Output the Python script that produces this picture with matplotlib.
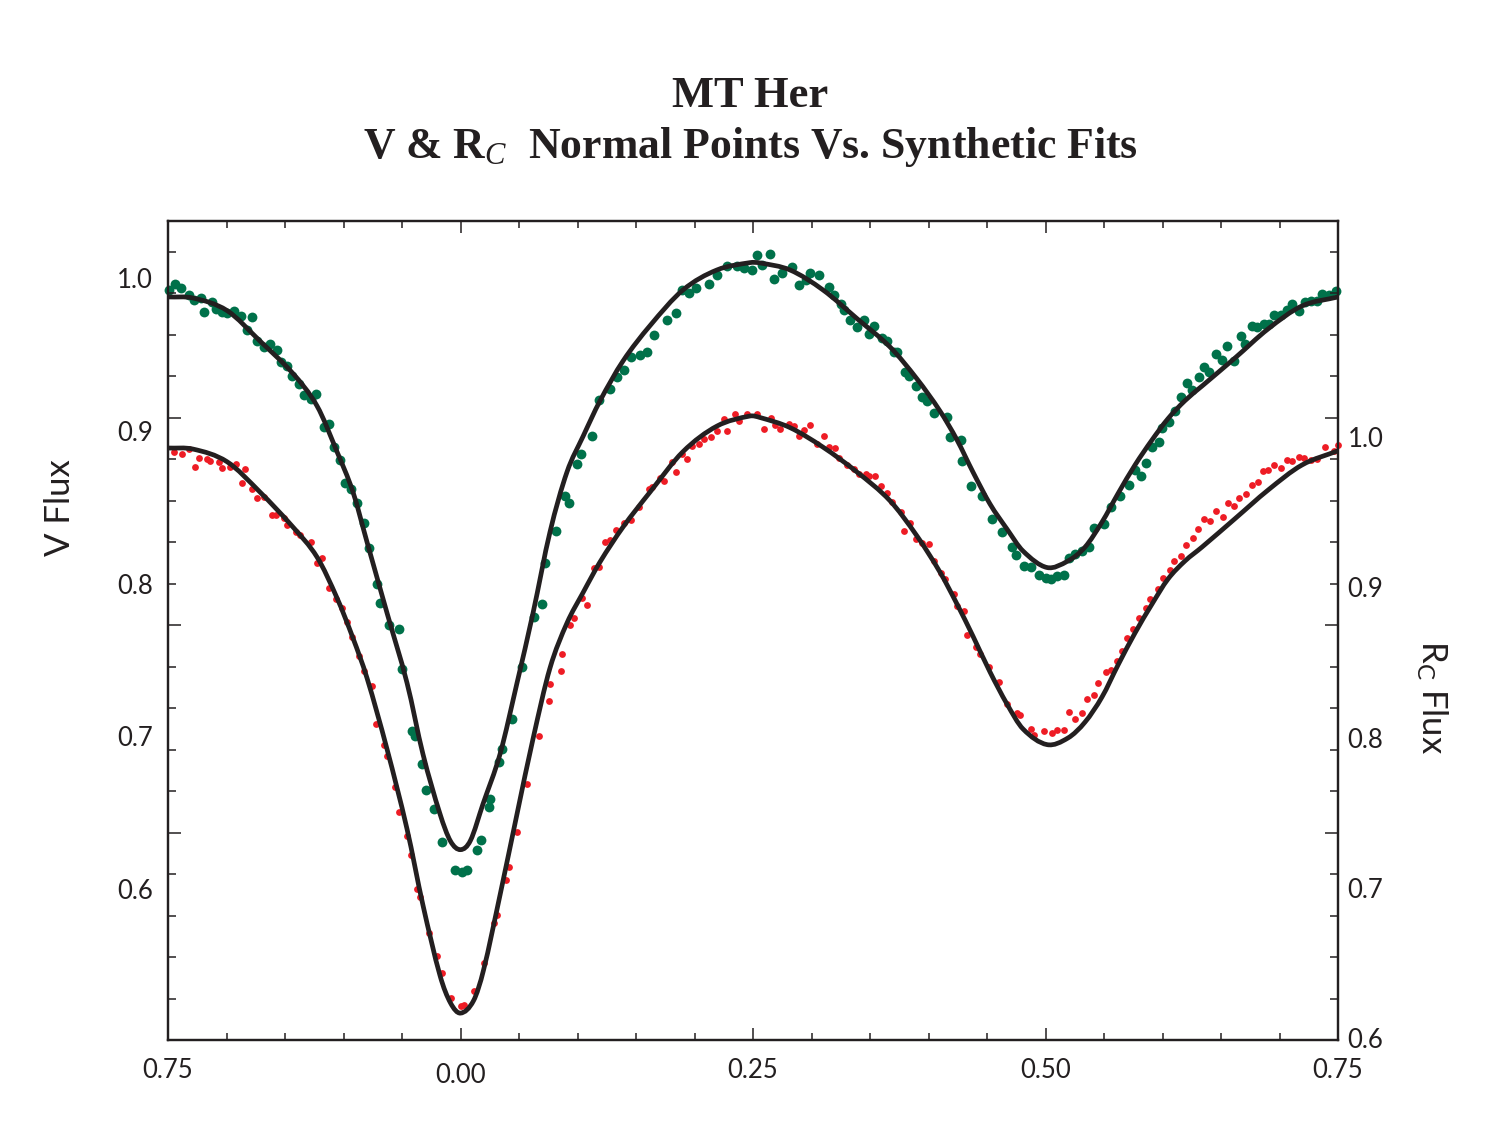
import matplotlib
matplotlib.use("Agg")
import matplotlib.pyplot as plt
from matplotlib.path import Path
from matplotlib.patches import PathPatch

# ---------------- data ----------------
# synthetic fit, V band (phase, flux)
fit_v_phase = [-0.25, -0.2286, -0.1996, -0.1714, -0.1432, -0.1226, -0.1056, -0.0919, -0.0799,
               -0.0628, -0.0457, -0.0321, -0.0175, -0.0085, 0.0, 0.0085, 0.0192, 0.0338, 0.0483,
               0.0620, 0.0765, 0.0910, 0.1047, 0.1192, 0.1389, 0.1620, 0.1902, 0.2192, 0.2474,
               0.2560, 0.2816, 0.3098, 0.3389, 0.3671, 0.3902, 0.4098, 0.4244, 0.4380, 0.4526,
               0.4671, 0.4808, 0.5013, 0.5192, 0.5338, 0.5483, 0.5620, 0.5765, 0.5910, 0.6047,
               0.6192, 0.6338, 0.6620, 0.6902, 0.7192, 0.75]
fit_v_flux = [0.9879, 0.9872, 0.9790, 0.9590, 0.9377, 0.9164, 0.8865, 0.8600, 0.8272,
              0.7807, 0.7348, 0.6882, 0.6489, 0.6310, 0.6255, 0.6315, 0.6554, 0.6882, 0.7348,
              0.7807, 0.8338, 0.8731, 0.8964, 0.9197, 0.9459, 0.9691, 0.9925, 1.0056, 1.0104,
              1.0102, 1.0056, 0.9925, 0.9737, 0.9551, 0.9341, 0.9131, 0.8941, 0.8731, 0.8521,
              0.8357, 0.8213, 0.8105, 0.8148, 0.8239, 0.8403, 0.8590, 0.8777, 0.8941, 0.9081,
              0.9199, 0.9295, 0.9479, 0.9669, 0.9820, 0.9879]

# synthetic fit, Rc band (phase, flux)
fit_r_phase = [-0.25, -0.2286, -0.1996, -0.1714, -0.1432, -0.1226, -0.1056, -0.0919, -0.0799,
               -0.0628, -0.0457, -0.0321, -0.0175, -0.0085, 0.0, 0.0111, 0.0197, 0.0338, 0.0483,
               0.0620, 0.0765, 0.0910, 0.1047, 0.1192, 0.1389, 0.1620, 0.1902, 0.2192, 0.2474,
               0.2560, 0.2816, 0.3098, 0.3389, 0.3671, 0.3902, 0.4098, 0.4244, 0.4380, 0.4526,
               0.4671, 0.4808, 0.5013, 0.5192, 0.5338, 0.5483, 0.5620, 0.5765, 0.5910, 0.6047,
               0.6192, 0.6338, 0.6620, 0.6902, 0.7192, 0.75]
fit_r_flux = [0.9927, 0.9920, 0.9836, 0.9634, 0.9401, 0.9201, 0.8930, 0.8662, 0.8396,
              0.7923, 0.7391, 0.6885, 0.6416, 0.6233, 0.6166, 0.6248, 0.6453, 0.6952, 0.7491,
              0.7992, 0.8463, 0.8762, 0.8964, 0.9168, 0.9401, 0.9634, 0.9903, 1.0073, 1.0140,
              1.0130, 1.0063, 0.9933, 0.9767, 0.9576, 0.9341, 0.9101, 0.8888, 0.8675, 0.8436,
              0.8223, 0.8057, 0.7953, 0.7997, 0.8103, 0.8270, 0.8483, 0.8696, 0.8888, 0.9055,
              0.9175, 0.9268, 0.9457, 0.9647, 0.9814, 0.9909]

# V normal points
v_phase = [-0.2493, -0.2436, -0.2387, -0.2322, -0.2279, -0.2222, -0.2194, -0.2122, -0.2094, -0.2037,
           -0.1994, -0.1938, -0.1880, -0.1829, -0.1780, -0.1738, -0.1681, -0.1624, -0.1567, -0.1538,
           -0.1481, -0.1438, -0.1382, -0.1339, -0.1282, -0.1239, -0.1168, -0.1126, -0.1083, -0.1026,
           -0.0983, -0.0940, -0.0883, -0.0826, -0.0784, -0.0712, -0.0684, -0.0613, -0.0527, -0.0498,
           -0.0413, -0.0385, -0.0327, -0.0299, -0.0228, -0.0156, -0.0043, 0.0009, 0.0057, 0.0143,
           0.0171, 0.0242, 0.0256, 0.0327, 0.0356, 0.0442, 0.0527, 0.0626, 0.0698, 0.0726,
           0.0812, 0.0897, 0.0926, 0.0997, 0.1026, 0.1126, 0.1182, 0.1282, 0.1339, 0.1396,
           0.1453, 0.1538, 0.1596, 0.1652, 0.1767, 0.1838, 0.1895, 0.1951, 0.2009, 0.2122,
           0.2194, 0.2279, 0.2365, 0.2421, 0.2493, 0.2536, 0.2579, 0.2644, 0.2678, 0.2750,
           0.2835, 0.2891, 0.2949, 0.2991, 0.3062, 0.3148, 0.3191, 0.3248, 0.3276, 0.3333,
           0.3391, 0.3447, 0.3490, 0.3532, 0.3604, 0.3647, 0.3703, 0.3732, 0.3803, 0.3832,
           0.3889, 0.3946, 0.3989, 0.4045, 0.4160, 0.4188, 0.4274, 0.4288, 0.4359, 0.4459,
           0.4544, 0.4630, 0.4715, 0.4744, 0.4815, 0.4872, 0.4943, 0.5000, 0.5043, 0.5100,
           0.5156, 0.5199, 0.5256, 0.5314, 0.5370, 0.5413, 0.5498, 0.5556, 0.5641, 0.5712,
           0.5769, 0.5812, 0.5855, 0.5912, 0.5969, 0.5997, 0.6054, 0.6111, 0.6154, 0.6211,
           0.6254, 0.6310, 0.6353, 0.6396, 0.6453, 0.6510, 0.6553, 0.6609, 0.6667, 0.6709,
           0.6767, 0.6809, 0.6866, 0.6909, 0.6951, 0.7009, 0.7066, 0.7109, 0.7165, 0.7222,
           0.7265, 0.7322, 0.7365, 0.7421, 0.7479]
v_flux = [0.9922, 0.9962, 0.9938, 0.9889, 0.9856, 0.9873, 0.9780, 0.9849, 0.9797, 0.9780,
          0.9774, 0.9790, 0.9757, 0.9664, 0.9750, 0.9591, 0.9549, 0.9569, 0.9532, 0.9450,
          0.9426, 0.9361, 0.9311, 0.9235, 0.9212, 0.9245, 0.9024, 0.9047, 0.8898, 0.8809,
          0.8657, 0.8617, 0.8528, 0.8396, 0.8231, 0.8000, 0.7874, 0.7725, 0.7702, 0.7438,
          0.7031, 0.6999, 0.6817, 0.6645, 0.6519, 0.6305, 0.6123, 0.6107, 0.6123, 0.6255,
          0.6321, 0.6536, 0.6586, 0.6833, 0.6916, 0.7114, 0.7451, 0.7782, 0.7868, 0.8132,
          0.8343, 0.8574, 0.8528, 0.8782, 0.8849, 0.8970, 0.9202, 0.9278, 0.9354, 0.9400,
          0.9486, 0.9499, 0.9519, 0.9631, 0.9730, 0.9774, 0.9922, 0.9906, 0.9938, 0.9962,
          1.0021, 1.0081, 1.0081, 1.0071, 1.0054, 1.0153, 1.0089, 1.0163, 0.9999, 1.0037,
          1.0077, 0.9960, 0.9990, 1.0037, 1.0023, 0.9944, 0.9889, 0.9831, 0.9796, 0.9725,
          0.9679, 0.9725, 0.9639, 0.9690, 0.9609, 0.9592, 0.9515, 0.9515, 0.9386, 0.9363,
          0.9297, 0.9222, 0.9199, 0.9117, 0.9089, 0.8960, 0.8941, 0.8801, 0.8637, 0.8571,
          0.8426, 0.8337, 0.8239, 0.8187, 0.8117, 0.8110, 0.8058, 0.8039, 0.8028, 0.8051,
          0.8056, 0.8168, 0.8191, 0.8215, 0.8239, 0.8367, 0.8391, 0.8501, 0.8571, 0.8649,
          0.8742, 0.8702, 0.8789, 0.8894, 0.8929, 0.9023, 0.9058, 0.9129, 0.9222, 0.9315,
          0.9269, 0.9351, 0.9421, 0.9386, 0.9503, 0.9468, 0.9555, 0.9456, 0.9620, 0.9573,
          0.9690, 0.9679, 0.9702, 0.9702, 0.9761, 0.9761, 0.9796, 0.9831, 0.9784, 0.9843,
          0.9854, 0.9850, 0.9901, 0.9889, 0.9920]

# Rc normal points
r_phase = [-0.2450, -0.2379, -0.2322, -0.2265, -0.2237, -0.2165, -0.2137, -0.2066, -0.2037, -0.1966,
           -0.1923, -0.1866, -0.1838, -0.1780, -0.1738, -0.1681, -0.1609, -0.1581, -0.1510, -0.1481,
           -0.1410, -0.1368, -0.1282, -0.1225, -0.1182, -0.1126, -0.1068, -0.1011, -0.0968, -0.0926,
           -0.0869, -0.0826, -0.0755, -0.0726, -0.0656, -0.0626, -0.0556, -0.0527, -0.0456, -0.0427,
           -0.0370, -0.0342, -0.0271, -0.0199, -0.0156, -0.0085, 0.0000, 0.0028, 0.0114, 0.0199,
           0.0285, 0.0314, 0.0385, 0.0413, 0.0485, 0.0570, 0.0669, 0.0755, 0.0769, 0.0855,
           0.0869, 0.0940, 0.0968, 0.1040, 0.1083, 0.1139, 0.1182, 0.1239, 0.1282, 0.1325,
           0.1396, 0.1453, 0.1524, 0.1609, 0.1638, 0.1709, 0.1738, 0.1809, 0.1838, 0.1895,
           0.1938, 0.1980, 0.2037, 0.2079, 0.2137, 0.2194, 0.2250, 0.2279, 0.2350, 0.2379,
           0.2450, 0.2536, 0.2592, 0.2650, 0.2692, 0.2735, 0.2806, 0.2849, 0.2891, 0.2934,
           0.2991, 0.3049, 0.3105, 0.3148, 0.3205, 0.3233, 0.3305, 0.3362, 0.3404, 0.3462,
           0.3490, 0.3547, 0.3590, 0.3647, 0.3690, 0.3761, 0.3789, 0.3846, 0.3889, 0.3946,
           0.4003, 0.4045, 0.4103, 0.4145, 0.4216, 0.4245, 0.4302, 0.4331, 0.4402, 0.4444,
           0.4516, 0.4601, 0.4673, 0.4758, 0.4786, 0.4872, 0.4900, 0.4985, 0.5057, 0.5100,
           0.5156, 0.5199, 0.5251, 0.5314, 0.5356, 0.5413, 0.5451, 0.5513, 0.5556, 0.5613,
           0.5650, 0.5698, 0.5746, 0.5803, 0.5855, 0.5897, 0.5963, 0.6003, 0.6060, 0.6097,
           0.6162, 0.6203, 0.6259, 0.6305, 0.6353, 0.6402, 0.6459, 0.6516, 0.6562, 0.6609,
           0.6652, 0.6715, 0.6761, 0.6818, 0.6857, 0.6903, 0.6951, 0.7017, 0.7066, 0.7109,
           0.7165, 0.7208, 0.7265, 0.7322, 0.7393, 0.7464, 0.7502]
r_flux = [0.9903, 0.9886, 0.9919, 0.9802, 0.9863, 0.9853, 0.9842, 0.9836, 0.9796, 0.9802,
          0.9819, 0.9692, 0.9786, 0.9651, 0.9595, 0.9601, 0.9484, 0.9484, 0.9460, 0.9417,
          0.9366, 0.9350, 0.9299, 0.9165, 0.9192, 0.8998, 0.8924, 0.8863, 0.8769, 0.8669,
          0.8545, 0.8445, 0.8344, 0.8093, 0.7951, 0.7874, 0.7673, 0.7505, 0.7344, 0.7221,
          0.6992, 0.6936, 0.6701, 0.6543, 0.6433, 0.6265, 0.6215, 0.6222, 0.6315, 0.6500,
          0.6768, 0.6818, 0.7053, 0.7137, 0.7372, 0.7690, 0.8009, 0.8243, 0.8354, 0.8445,
          0.8555, 0.8746, 0.8797, 0.8930, 0.8881, 0.9131, 0.9138, 0.9299, 0.9316, 0.9383,
          0.9427, 0.9450, 0.9534, 0.9651, 0.9668, 0.9728, 0.9709, 0.9836, 0.9769, 0.9886,
          0.9853, 0.9943, 0.9953, 0.9987, 1.0003, 1.0037, 1.0121, 1.0037, 1.0154, 1.0104,
          1.0154, 1.0154, 1.0056, 1.0127, 1.0080, 1.0056, 1.0087, 1.0071, 1.0009, 1.0047,
          1.0080, 0.9956, 1.0009, 0.9937, 0.9927, 0.9861, 0.9814, 0.9790, 0.9754, 0.9754,
          0.9738, 0.9742, 0.9671, 0.9628, 0.9571, 0.9500, 0.9374, 0.9428, 0.9319, 0.9295,
          0.9291, 0.9172, 0.9095, 0.9058, 0.8953, 0.8875, 0.8839, 0.8685, 0.8606, 0.8554,
          0.8471, 0.8369, 0.8221, 0.8162, 0.8150, 0.8055, 0.8019, 0.8043, 0.8031, 0.8050,
          0.8050, 0.8169, 0.8121, 0.8162, 0.8257, 0.8280, 0.8363, 0.8435, 0.8447, 0.8507,
          0.8578, 0.8661, 0.8720, 0.8796, 0.8863, 0.8922, 0.8986, 0.9065, 0.9112, 0.9177,
          0.9207, 0.9279, 0.9326, 0.9390, 0.9452, 0.9438, 0.9509, 0.9469, 0.9564, 0.9540,
          0.9595, 0.9623, 0.9683, 0.9700, 0.9771, 0.9778, 0.9814, 0.9794, 0.9850, 0.9838,
          0.9866, 0.9861, 0.9850, 0.9856, 0.9937, 0.9909, 0.9944]

x_tick_pos = [-0.25, 0.0, 0.25, 0.5, 0.75]
x_tick_labels = ['0.75', '0.00', '0.25', '0.50', '0.75']
x_minor_pos = [-0.20, -0.15, -0.10, -0.05, 0.05, 0.10, 0.15, 0.20, 0.30, 0.35, 0.40, 0.45,
               0.55, 0.60, 0.65, 0.70]
v_tick_pos = [0.6, 0.7, 0.8, 0.9, 1.0]
v_tick_labels = ['0.6', '0.7', '0.8', '0.9', '1.0']
r_tick_pos = [0.6, 0.7, 0.8, 0.9, 1.0]
r_tick_labels = ['0.6', '0.7', '0.8', '0.9', '1.0']

# ---------------- style ----------------
INK = '#231f20'
GREEN = '#00714a'
RED = '#ee1c25'
plt.rcParams['font.family'] = ['Lato', 'DejaVu Sans']
plt.rcParams['font.weight'] = 'normal'
plt.rcParams['mathtext.fontset'] = 'custom'
plt.rcParams['mathtext.it'] = 'Liberation Serif:italic'
plt.rcParams['mathtext.rm'] = 'Liberation Serif'


def smooth_curve(ax, xs, ys, **kw):
    """Draw a smooth cubic (Hermite/Bezier) path through the given points."""
    n = len(xs)
    slopes = []
    for i in range(n):
        if i == 0:
            m = (ys[1] - ys[0]) / (xs[1] - xs[0])
        elif i == n - 1:
            m = (ys[-1] - ys[-2]) / (xs[-1] - xs[-2])
        else:
            m = (ys[i + 1] - ys[i - 1]) / (xs[i + 1] - xs[i - 1])
        slopes.append(m)
    verts = [(xs[0], ys[0])]
    codes = [Path.MOVETO]
    for i in range(n - 1):
        dx = xs[i + 1] - xs[i]
        verts += [(xs[i] + dx / 3, ys[i] + slopes[i] * dx / 3),
                  (xs[i + 1] - dx / 3, ys[i + 1] - slopes[i + 1] * dx / 3),
                  (xs[i + 1], ys[i + 1])]
        codes += [Path.CURVE4] * 3
    patch = PathPatch(Path(verts, codes), transform=ax.transData, fill=False, **kw)
    ax.add_patch(patch)
    return patch


fig = plt.figure(figsize=(15, 11.3), dpi=100)
L, R, B, T = 168 / 1500, 1338 / 1500, 1 - 1040 / 1130, 1 - 221 / 1130
ax = fig.add_axes([L, B, R - L, T - B])
ax.set_xlim(-0.25, 0.75)
ax.set_ylim(0.5007, 1.0377)
axr = ax.twinx()
axr.set_ylim(0.5987, 1.1438)

# tick-mark overlay (independent regular tick grid)
axt = fig.add_axes([L, B, R - L, T - B], zorder=5)
axt.patch.set_visible(False)
for s in axt.spines.values():
    s.set_visible(False)
axt.set_xlim(0, 1)
axt.set_ylim(0, 819 / 41.5)
axt.set_xticks([])
axt.set_yticks([5, 10, 15])
axt.set_yticks([k for k in range(1, 20) if k % 5 != 0], minor=True)
axt.tick_params(axis='y', which='major', direction='in', length=9.5, width=1.1, color=INK,
                left=True, right=True, labelleft=False, labelright=False)
axt.tick_params(axis='y', which='minor', direction='in', length=5.8, width=1.1, color=INK,
                left=True, right=True)

# data
ax.scatter(v_phase, v_flux, s=50, color=GREEN, linewidths=0, zorder=2, clip_on=False)
smooth_curve(ax, fit_v_phase, fit_v_flux, edgecolor=INK, lw=3.4, zorder=3)
axr.scatter(r_phase, r_flux, s=24, color=RED, linewidths=0, zorder=2, clip_on=False)
smooth_curve(axr, fit_r_phase, fit_r_flux, edgecolor=INK, lw=3.4, zorder=3)

# frame
for a in (ax, axr):
    for s in a.spines.values():
        s.set_linewidth(1.6)
        s.set_color(INK)

# x ticks
ax.set_xticks(x_tick_pos)
ax.set_xticklabels(x_tick_labels)
ax.set_xticks(x_minor_pos, minor=True)
ax.tick_params(axis='x', which='major', direction='in', length=8.6, width=1.1, color=INK,
               top=True, bottom=True, labelsize=18.5, labelcolor=INK, pad=13)
ax.tick_params(axis='x', which='minor', direction='in', length=5.0, width=1.1, color=INK,
               top=True, bottom=True)
ax.xaxis.get_major_ticks()[1].label1.set_y(-0.006)

# y labels (left V, right Rc); tick marks come from overlay
ax.set_yticks(v_tick_pos)
ax.set_yticklabels(v_tick_labels)
ax.tick_params(axis='y', which='both', length=0, labelsize=18.5, labelcolor=INK, pad=11)
axr.set_yticks(r_tick_pos)
axr.set_yticklabels(r_tick_labels)
axr.tick_params(axis='y', which='both', length=0, labelsize=18.5, labelcolor=INK, pad=7)

# axis titles
fig.text(60 / 1500, 1 - 508 / 1130, 'V Flux', rotation=90, ha='center', va='center',
         fontsize=25, color=INK)
fig.text(1432 / 1500, 1 - 697 / 1130, r'R$_\mathregular{C}$ Flux', rotation=-90,
         ha='center', va='center', fontsize=25, color=INK)

# title
fig.text(0.5, 1 - 107 / 1130, 'MT Her', ha='center', va='baseline', fontsize=32,
         fontweight='bold', family='Liberation Serif', color=INK)
fig.text(0.5, 1 - 158 / 1130, r'V & R$_{\mathit{C}}$  Normal Points Vs. Synthetic Fits',
         ha='center', va='baseline', fontsize=31.5, fontweight='bold',
         family='Liberation Serif', color=INK)

fig.savefig('out.png', dpi=100, facecolor='white')
